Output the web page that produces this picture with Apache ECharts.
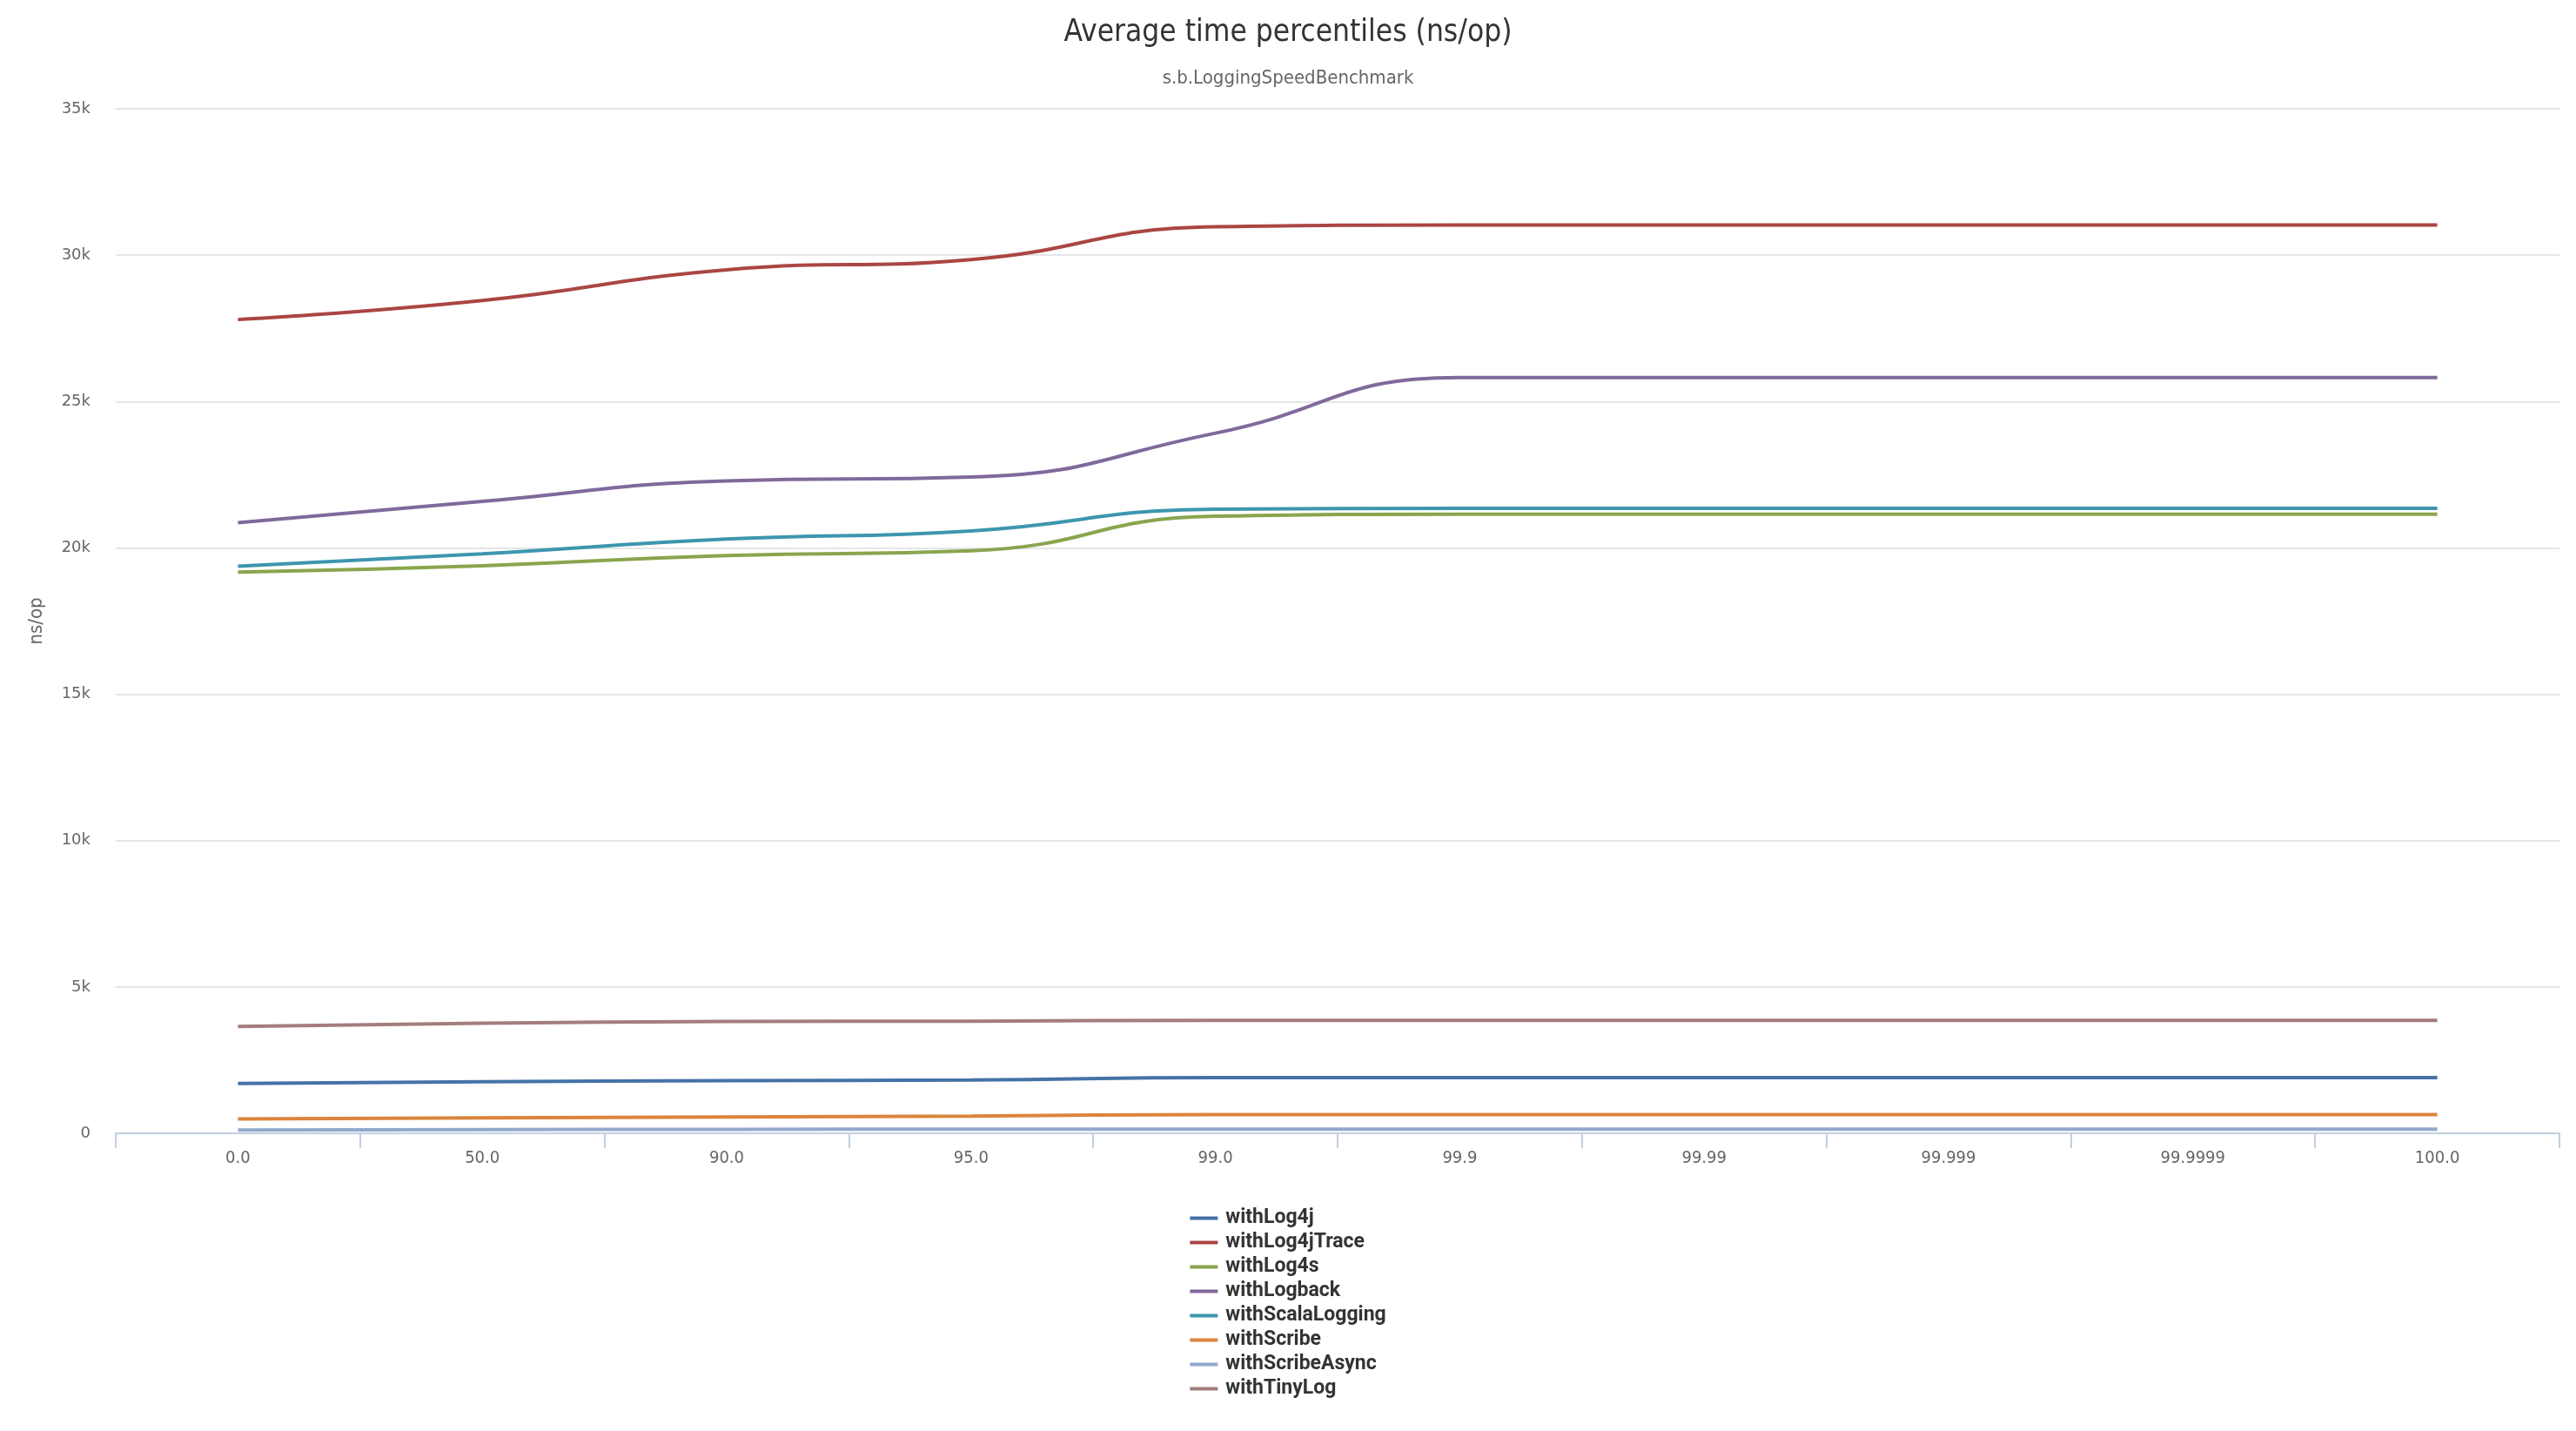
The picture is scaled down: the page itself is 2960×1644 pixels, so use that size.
<!DOCTYPE html>
<html>
<head>
<meta charset="utf-8">
<script src="https://cdn.jsdelivr.net/npm/echarts@6/dist/echarts.min.js"></script>
<style>
html,body{margin:0;padding:0;background:#fff;}
#chart{width:2960px;height:1644px;}
</style>
</head>
<body>
<div id="chart"></div>
<script>
const categories = ['0.0','50.0','90.0','95.0','99.0','99.9','99.99','99.999','99.9999','100.0'];
const yTicks = [0, 5000, 10000, 15000, 20000, 25000, 30000, 35000];
const withLog4j        = [1700, 1760, 1800, 1820, 1900, 1900, 1900, 1900, 1900, 1900];
const withLog4jTrace   = [27800, 28450, 29500, 29850, 30970, 31030, 31030, 31030, 31030, 31030];
const withLog4s        = [19170, 19390, 19740, 19900, 21080, 21150, 21150, 21150, 21150, 21150];
const withLogback      = [20860, 21590, 22290, 22420, 23920, 25820, 25820, 25820, 25820, 25820];
const withScalaLogging = [19370, 19800, 20300, 20580, 21320, 21350, 21350, 21350, 21350, 21350];
const withScribe       = [490, 530, 560, 590, 640, 640, 640, 640, 640, 640];
const withScribeAsync  = [110, 125, 135, 140, 140, 140, 140, 140, 140, 140];
const withTinyLog      = [3650, 3760, 3820, 3830, 3860, 3860, 3860, 3860, 3860, 3860];

const seriesNames = ['withLog4j','withLog4jTrace','withLog4s','withLogback','withScalaLogging','withScribe','withScribeAsync','withTinyLog'];
const seriesData = [withLog4j, withLog4jTrace, withLog4s, withLogback, withScalaLogging, withScribe, withScribeAsync, withTinyLog];
const colors = ['#4572A7','#AA4643','#89A54E','#80699B','#3D96AE','#DB843D','#92A8CD','#A47D7C'];

const narrow = "'Liberation Sans Narrow','DejaVu Sans Condensed',Roboto,sans-serif";

const chart = echarts.init(document.getElementById('chart'), null, {renderer:'canvas'});
chart.setOption({
  backgroundColor: '#ffffff',
  animation: false,
  color: colors,
  title: [
    {text: 'Average time percentiles (ns/op)', left: 'center', top: 15,
     textStyle: {fontFamily: narrow, fontSize: 35, fontWeight: 'normal', color: '#333333'}},
    {text: 's.b.LoggingSpeedBenchmark', left: 'center', top: 74,
     textStyle: {fontFamily: narrow, fontSize: 22, fontWeight: 'normal', color: '#666666'}}
  ],
  legend: {
    orient: 'vertical', left: 'center', top: 1383,
    icon: 'rect', itemWidth: 32, itemHeight: 4, itemGap: 5,
    textStyle: {fontFamily: 'Roboto, sans-serif', fontSize: 23, fontWeight: 'bold', color: '#333333', lineHeight: 23, padding: [0, 0, 0, 4]},
    data: seriesNames
  },
  grid: {left: 133, right: 19, top: 125, bottom: 342, outerBoundsMode: 'none'},
  xAxis: {
    type: 'category', data: categories, boundaryGap: true,
    axisLine: {show: true, lineStyle: {color: '#C0D0E0', width: 2}},
    axisTick: {show: true, length: 17, lineStyle: {color: '#C0D0E0', width: 2}},
    axisLabel: {fontFamily: narrow, fontSize: 20, color: '#666666', margin: 19},
    splitLine: {show: false}
  },
  yAxis: {
    type: 'value', min: 0, max: 35000, interval: 5000,
    name: 'ns/op', nameLocation: 'middle', nameGap: 80, nameRotate: 90,
    nameTextStyle: {fontFamily: narrow, fontSize: 22, color: '#666666'},
    axisLine: {show: false}, axisTick: {show: false},
    axisLabel: {fontFamily: "'DejaVu Sans', sans-serif", fontSize: 18, color: '#666666', margin: 29,
      formatter: v => yTicks.includes(v) ? (v === 0 ? '0' : (v / 1000) + 'k') : ''},
    splitLine: {show: true, lineStyle: {color: '#E6E6E6', width: 2}}
  },
  series: seriesNames.map((n, i) => ({
    name: n, type: 'line', data: seriesData[i], smooth: true,
    showSymbol: false, symbol: 'none',
    lineStyle: {width: 4, color: colors[i]},
    itemStyle: {color: colors[i]}
  }))
});
</script>
</body>
</html>
